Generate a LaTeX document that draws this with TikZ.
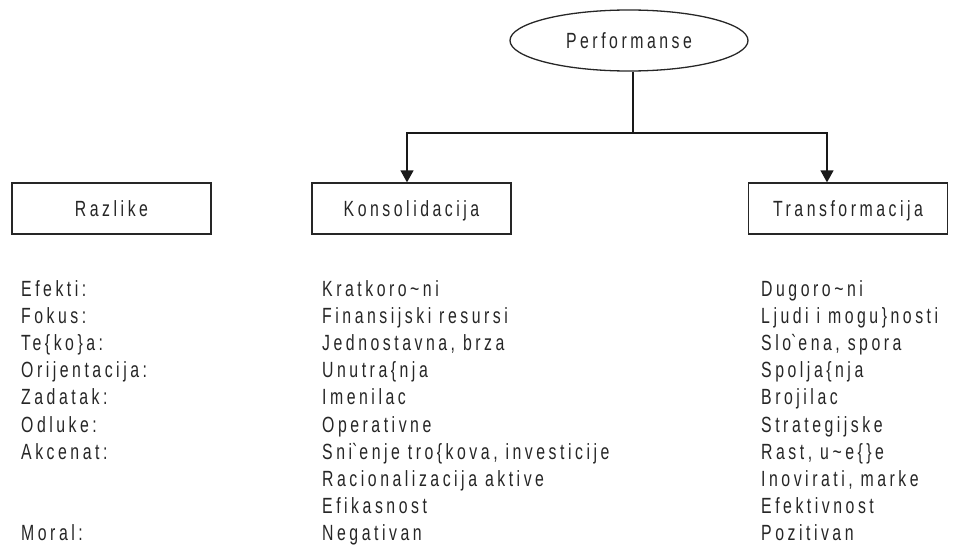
\documentclass[tikz,border=0pt]{standalone}
\usepackage{fontspec}
\setmainfont[FakeStretch=0.72,LetterSpace=16]{Liberation Sans}
\usetikzlibrary{shapes.geometric,arrows.meta}
\begin{document}
\begin{tikzpicture}[x=1pt,y=-1pt,
  txt/.style={font=\fontsize{22}{26}\selectfont, text=black!85, inner sep=0pt},
  lbl/.style={txt, anchor=base west},
  box/.style={rectangle, draw=black!85, line width=1.3pt, minimum width=199pt, minimum height=51pt, txt, text height=15pt, text depth=0pt},
  oval/.style={ellipse, draw=black!85, line width=1.3pt, minimum width=238pt, minimum height=61pt, txt, text height=15pt, text depth=0pt},
  conn/.style={draw=black!90, line width=1.3pt},
  arr/.style={conn, -{Triangle[width=13pt,length=12pt]}}]
\useasboundingbox (0,0) rectangle (953,549);

\node[oval] (perf) at (629,40.5) {Performanse};
\node[box] (raz) at (111.5,208.5) {Razlike};
\node[box] (kons) at (411.5,208.5) {Konsolidacija};
\node[box] (trans) at (848,208.5) {Transformacija};

\coordinate (split) at (633,133);
\draw[conn] ([xshift=4pt]perf.south) -- (split);
\draw[arr] (split) -| ([xshift=-4.5pt]kons.north);
\draw[arr] (split) -| ([xshift=-21pt]trans.north);

\foreach \t [count=\i] in {Efekti:, Fokus:, Te\{ko\}a:, Orijentacija:, Zadatak:, Odluke:, Akcenat:}
  \node[lbl] (r\i) at (21,{296+27.2*(\i-1)}) {\t};
\node[lbl] (r10) at (21,540.8) {Moral:};

\foreach \t [count=\i] in {Kratkoro\textasciitilde ni, Finansijski resursi, {Jednostavna, brza}, Unutra\{nja, Imenilac, Operativne, {Sni\textasciigrave enje tro\{kova, investicije}, Racionalizacija aktive, Efikasnost, Negativan}
  \node[lbl] (k\i) at (322,{296+27.2*(\i-1)}) {\t};

\foreach \t [count=\i] in {Dugoro\textasciitilde ni, Ljudi i mogu\}nosti, {Slo\textasciigrave ena, spora}, Spolja\{nja, Brojilac, Strategijske, {Rast, u\textasciitilde e\{\}e}, {Inovirati, marke}, Efektivnost, Pozitivan}
  \node[lbl] (t\i) at (761,{296+27.2*(\i-1)}) {\t};
\end{tikzpicture}
\end{document}
